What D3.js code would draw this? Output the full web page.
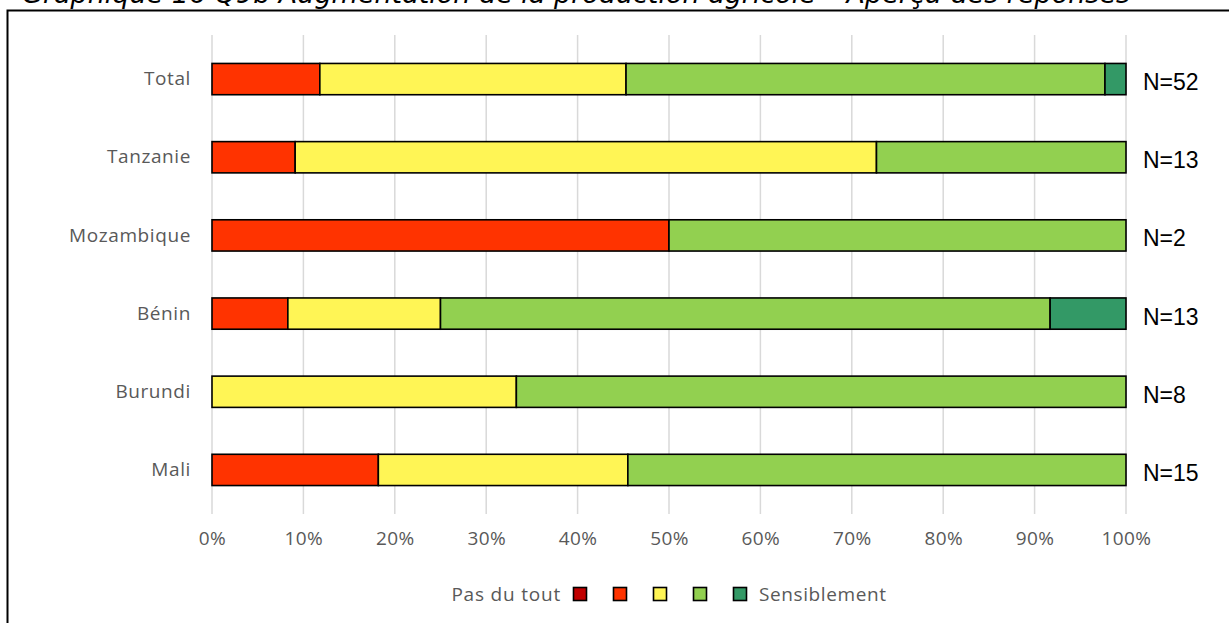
<!DOCTYPE html>
<html>
<head>
<meta charset="utf-8">
<script src="https://cdn.jsdelivr.net/npm/d3@7"></script>
<style>
  body { margin: 0; background: #fff; }
  svg { display: block; }
</style>
</head>
<body>
<div id="chart"></div>
<script>
// categories, top to bottom
var countries = ["Total", "Tanzanie", "Mozambique", "Bénin", "Burundi", "Mali"];
var nLabels = ["N=52", "N=13", "N=2", "N=13", "N=8", "N=15"];

// answer levels (Pas du tout -> Sensiblement), share of answers in %
var levels = ["1", "2", "3", "4", "5"];
var level1 = [0, 0, 0, 0, 0, 0];
var level2 = [11.8, 9.1, 50, 8.3, 0, 18.2];
var level3 = [33.5, 63.6, 0, 16.7, 33.3, 27.3];
var level4 = [52.4, 27.3, 50, 66.7, 66.7, 54.5];
var level5 = [2.3, 0, 0, 8.3, 0, 0];
var levelColors = ["#C00000", "#FF3300", "#FFF555", "#92D050", "#339966"];

var xTicks = [0, 10, 20, 30, 40, 50, 60, 70, 80, 90, 100];

var W = 1229, H = 623;
var margin = {top: 40, right: 103, bottom: 114, left: 212},
    width = W - margin.left - margin.right,
    height = H - margin.top - margin.bottom;

var grayFont = "Open Sans";

var svg = d3.select("#chart").append("svg")
    .attr("width", W)
    .attr("height", H);

// frame + title (cut at the top like the source)
svg.append("path")
    .attr("d", "M7.5," + H + "V10.5H" + W)
    .attr("fill", "none")
    .attr("stroke", "#000")
    .attr("stroke-width", 2);

svg.append("text")
    .attr("x", 22)
    .attr("y", 3)
    .style("font-family", "DejaVu Sans")
    .style("font-style", "italic")
    .style("font-size", "27px")
    .text("Graphique 16 Q9b Augmentation de la production agricole – Aperçu des réponses");

var g = svg.append("g")
    .attr("transform", "translate(" + margin.left + "," + margin.top + ")");

var x = d3.scaleLinear().domain([0, 100]).range([0, width]);
var y = d3.scaleBand().domain(countries).range([0, height]).paddingInner(0.6).paddingOuter(0.3);

// gridlines
g.selectAll(".grid")
    .data(xTicks)
  .enter().append("line")
    .attr("x1", function(d) { return x(d); })
    .attr("x2", function(d) { return x(d); })
    .attr("y1", -5)
    .attr("y2", height + 5)
    .attr("stroke", "#d9d9d9")
    .attr("stroke-width", 1.5);

// x axis
var xAxis = g.append("g")
    .attr("transform", "translate(0," + height + ")")
    .call(d3.axisBottom(x).tickValues(xTicks).tickSize(0).tickPadding(23)
        .tickFormat(function(d) { return d + "%"; }));
xAxis.select(".domain").remove();
xAxis.selectAll("text")
    .style("font-family", grayFont)
    .style("font-size", "19px")
    .style("letter-spacing", "0.4px")
    .attr("fill", "#595959");

// y axis
var yAxis = g.append("g")
    .call(d3.axisLeft(y).tickSize(0).tickPadding(21));
yAxis.select(".domain").remove();
yAxis.selectAll("text")
    .style("font-family", grayFont)
    .style("font-size", "19px")
    .style("letter-spacing", "0.6px")
    .attr("fill", "#595959");

// stack the series
var rows = countries.map(function(c, i) {
  return {country: c, "1": level1[i], "2": level2[i], "3": level3[i], "4": level4[i], "5": level5[i]};
});
var series = d3.stack().keys(levels)(rows);

g.selectAll(".serie")
    .data(series)
  .enter().append("g")
    .attr("fill", function(d, i) { return levelColors[i]; })
  .selectAll("rect")
    .data(function(d) { return d.filter(function(p) { return p[1] - p[0] > 0; }); })
  .enter().append("rect")
    .attr("x", function(d) { return x(d[0]); })
    .attr("y", function(d) { return y(d.data.country); })
    .attr("width", function(d) { return x(d[1]) - x(d[0]); })
    .attr("height", y.bandwidth())
    .attr("stroke", "#000")
    .attr("stroke-width", 1.6);

// N labels
g.selectAll(".nlab")
    .data(nLabels)
  .enter().append("text")
    .attr("x", width + 17)
    .attr("y", function(d, i) { return y(countries[i]) + y.bandwidth() / 2 + 3; })
    .attr("dy", "0.35em")
    .style("font-family", "Liberation Sans")
    .style("font-size", "23px")
    .attr("fill", "#000")
    .text(function(d) { return d; });

// legend
var legY = 594;
svg.append("text")
    .attr("x", 561)
    .attr("y", legY)
    .attr("dy", "0.35em")
    .attr("text-anchor", "end")
    .style("font-family", grayFont)
    .style("font-size", "19px")
    .style("letter-spacing", "0.8px")
    .attr("fill", "#595959")
    .text("Pas du tout");

svg.selectAll(".leg")
    .data(levelColors)
  .enter().append("rect")
    .attr("x", function(d, i) { return 573.5 + i * 40; })
    .attr("y", legY - 6.5)
    .attr("width", 13)
    .attr("height", 13)
    .attr("fill", function(d) { return d; })
    .attr("stroke", "#000")
    .attr("stroke-width", 1.6);

svg.append("text")
    .attr("x", 759)
    .attr("y", legY)
    .attr("dy", "0.35em")
    .style("font-family", grayFont)
    .style("font-size", "19px")
    .style("letter-spacing", "0.6px")
    .attr("fill", "#595959")
    .text("Sensiblement");
</script>
</body>
</html>
